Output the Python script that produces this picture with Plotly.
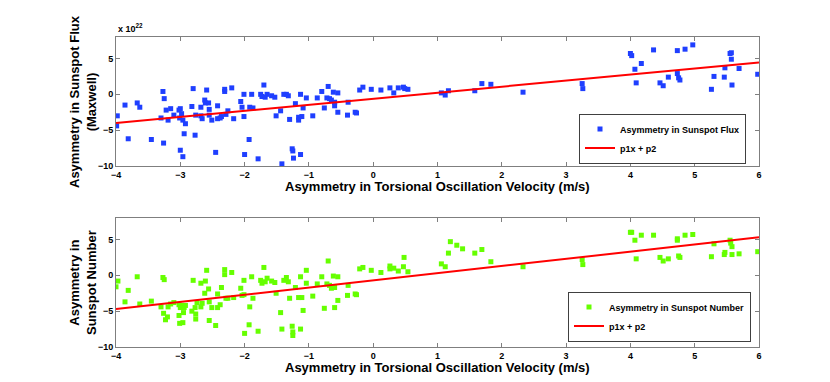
import plotly.graph_objects as go

# Upper panel: sunspot flux asymmetry (units of 1e22 Mx) vs torsional oscillation velocity asymmetry
flux_x = [
    -3.98, -3.99, -3.86, -3.81, -3.67, -3.63, -3.45, -3.30, -3.27, -3.25, -3.26, -3.22, -3.19,
    -3.15, -3.10, -3.02, -3.00, -2.98, -3.01, -2.96, -2.92, -2.94, -3.00, -2.96, -2.80, -2.82,
    -2.76, -2.77, -2.68, -2.68, -2.66, -2.62, -2.61, -2.59, -2.56, -2.55, -2.55, -2.51, -2.45,
    -2.42, -2.42, -2.38, -2.36, -2.31, -2.31, -2.29, -2.26, -2.20, -2.17, -2.06, -2.04, -2.01,
    -2.01, -2.00, -1.93, -1.92, -1.89, -1.87, -1.79, -1.75, -1.73, -1.70, -1.68, -1.65, -1.58,
    -1.53, -1.51, -1.44, -1.42, -1.39, -1.35, -1.32, -1.30, -1.26, -1.25, -1.24, -1.21, -1.16,
    -1.16, -1.13, -1.13, -1.11, -1.09, -1.04, -0.94, -0.87, -0.80, -0.76, -0.70, -0.72, -0.68,
    -0.65, -0.62, -0.60, -0.60, -0.55, -0.55, -0.39, -0.40, -0.28, -0.26, -0.21, -0.16, -0.03,
    0.12, 0.26, 0.32, 0.39, 0.47, 0.49, 0.54, 1.06, 1.12, 1.17, 1.58, 1.69, 1.83, 2.33, 3.25,
    3.26, 4.00, 4.02, 4.07, 4.09, 4.17, 4.36, 4.46, 4.51, 4.59, 4.73, 4.73, 4.75, 4.77, 4.85,
    4.97, 5.26, 5.30, 5.46, 5.47, 5.55, 5.57, 5.57, 5.58, 5.69, 5.98,
]
flux_y = [
    -3.0, -4.4, -1.5, -6.2, -1.2, -1.8, -6.3, -3.3, 0.4, -0.6, -6.8, -2.2, -3.6,
    -2.0, -2.9, -2.2, -2.0, -2.7, -3.3, -3.6, -4.1, -5.5, -7.8, -8.7, 0.8, -1.7,
    -2.9, -5.7, -1.8, -3.0, -3.4, -0.8, -1.2, 0.6, -1.2, -2.1, -2.9, -3.6, -8.1,
    -1.6, -3.4, -3.3, -3.1, 0.7, 0.4, -2.8, -2.3, 0.9, -3.4, -1.0, -1.8, 0.0,
    -3.1, -8.4, -6.3, -1.8, 0.0, -1.9, -9.0, 0.0, -0.3, 1.3, -0.4, 0.0, -0.2,
    -0.4, -3.0, -2.3, -9.7, 0.0, 0.0, -0.2, -3.5, -7.6, -7.9, -8.9, -1.3, -3.2,
    -3.6, 0.0, -8.4, -3.1, -1.9, -0.5, -3.0, -0.5, 0.4, -1.9, 1.1, -0.5, -0.6,
    -0.8, 0.3, -1.1, -1.6, 0.2, -2.5, -1.1, -2.9, -2.5, -2.6, 0.6, 1.0, 0.7,
    0.6, 0.9, 0.2, 0.9, 1.0, 0.8, 0.7, 0.2, -0.1, 0.5, 0.5, 1.5, 1.4, 0.3, 1.5,
    0.8, 5.7, 5.4, 3.5, 1.6, 4.3, 6.2, 1.6, 1.2, 2.4, 6.1, 2.9, 2.3, 2.0, 6.3,
    6.9, 0.7, 2.5, 2.4, 3.7, 5.7, 5.8, 4.9, 1.3, 3.6, 2.8,
]

# Lower panel: sunspot number asymmetry
number_x = [
    -4.00, -3.97, -3.81, -3.86, -3.67, -3.63, -3.45, -3.30, -3.27, -3.25, -3.26, -3.23, -3.20,
    -3.19, -3.15, -3.10, -3.02, -3.02, -3.01, -3.00, -2.98, -2.96, -2.95, -2.94, -2.92, -2.80,
    -2.82, -2.77, -2.76, -2.76, -2.74, -2.68, -2.68, -2.66, -2.62, -2.61, -2.59, -2.56, -2.55,
    -2.55, -2.51, -2.45, -2.42, -2.42, -2.38, -2.36, -2.31, -2.31, -2.29, -2.26, -2.20, -2.17,
    -2.06, -2.04, -2.01, -2.01, -2.00, -1.93, -1.92, -1.89, -1.87, -1.79, -1.75, -1.73, -1.70,
    -1.68, -1.65, -1.58, -1.53, -1.51, -1.44, -1.42, -1.39, -1.35, -1.32, -1.30, -1.26, -1.25,
    -1.25, -1.21, -1.16, -1.13, -1.13, -1.11, -1.09, -1.04, -1.04, -0.94, -0.87, -0.80, -0.76,
    -0.70, -0.72, -0.68, -0.65, -0.62, -0.60, -0.60, -0.55, -0.55, -0.39, -0.40, -0.28, -0.26,
    -0.21, -0.16, -0.03, 0.12, 0.26, 0.26, 0.32, 0.39, 0.47, 0.48, 0.54, 1.06, 1.12, 1.17,
    1.20, 1.30, 1.39, 1.58, 1.69, 1.83, 2.33, 3.25, 3.26, 4.00, 4.02, 4.07, 4.09, 4.17, 4.36,
    4.46, 4.51, 4.59, 4.73, 4.73, 4.75, 4.77, 4.85, 4.97, 5.26, 5.30, 5.46, 5.47, 5.55, 5.56,
    5.58, 5.58, 5.69, 5.98,
]
number_y = [
    -1.6, -0.8, -2.1, -3.7, -0.2, -4.0, -3.6, -4.4, -0.3, -0.6, -5.3, -6.2, -5.8,
    -4.4, -4.0, -3.8, -4.1, -5.6, -6.7, -4.5, -4.2, -6.6, -5.2, -4.5, -4.2, -0.7,
    -5.0, -4.5, -5.4, -6.1, -3.8, -1.1, -4.4, -3.9, -2.5, -0.8, 0.7, -1.9, -3.7,
    -6.3, -4.5, -7.0, -4.5, -2.6, -4.1, -1.7, 0.8, 0.1, -3.2, -3.2, 0.4, -3.1,
    -1.8, -2.8, -2.7, -0.7, -8.1, -6.9, -4.4, -0.2, -3.2, -7.8, -0.7, -1.1, 1.1,
    -0.9, -0.4, -0.8, -1.0, -2.5, -5.2, -7.5, -0.7, -0.3, -0.9, -3.2, -7.1, -7.9,
    -8.4, -1.7, -3.1, -7.5, -0.2, -3.1, -4.9, 0.7, -1.1, -2.9, -1.2, -0.2, -4.6,
    2.0, -1.2, -1.4, -1.8, -0.1, -1.7, -4.5, -0.2, -3.5, -1.4, -2.8, -2.6, -2.7,
    0.9, 1.1, 0.7, 0.4, 1.3, 0.9, 1.0, 0.6, 1.2, 2.5, 0.5, 1.6, 1.2, 3.1,
    4.7, 4.2, 3.7, 3.1, 3.6, 1.9, 1.2, 2.2, 1.5, 6.0, 6.0, 4.9, 2.3, 5.6, 5.6,
    2.5, 2.0, 2.3, 5.1, 4.9, 2.7, 2.5, 5.6, 5.7, 2.6, 4.4, 2.9, 3.2, 4.9, 4.5,
    4.0, 2.9, 3.0, 3.3,
]

# Linear fits (p1x + p2), end points
fit_x = [-4, 6]
flux_fit = [-4.0, 4.45]
number_fit = [-4.7, 5.3]

x_ticks = [-4, -3, -2, -1, 0, 1, 2, 3, 4, 5, 6]
y_ticks = [-10, -5, 0, 5]

BLUE = "#1f3fff"
GREEN = "#66ff00"
RED = "#ff0000"
FONT = "Liberation Sans, Arial, sans-serif"
XTITLE = "Asymmetry in Torsional Oscillation Velocity (m/s)"

fig = go.Figure()
fig.add_trace(go.Scatter(
    x=flux_x, y=flux_y, mode="markers", name="Asymmetry in Sunspot Flux",
    marker=dict(symbol="square", size=5, color=BLUE), xaxis="x", yaxis="y", legend="legend",
))
fig.add_trace(go.Scatter(
    x=fit_x, y=flux_fit, mode="lines", name="p1x + p2",
    line=dict(color=RED, width=2), xaxis="x", yaxis="y", legend="legend",
))
fig.add_trace(go.Scatter(
    x=number_x, y=number_y, mode="markers", name="Asymmetry in Sunspot Number",
    marker=dict(symbol="square", size=5, color=GREEN), xaxis="x2", yaxis="y2", legend="legend2",
))
fig.add_trace(go.Scatter(
    x=fit_x, y=number_fit, mode="lines", name="p1x + p2",
    line=dict(color=RED, width=2), xaxis="x2", yaxis="y2", legend="legend2",
))

W, H = 830, 382
x_dom = [108 / W, 751 / W]
top_dom = [(H - 158) / H, (H - 29) / H]
bot_dom = [(H - 339) / H, (H - 210) / H]

title_font = dict(family=FONT, size=13, color="black", weight="bold")
axis_common = dict(
    showgrid=False, zeroline=False, showline=True, linecolor="#7f7f7f", linewidth=1,
    mirror="allticks", ticks="inside", ticklen=4, tickcolor="#7f7f7f",
    tickfont=dict(family=FONT, size=9, color="black", weight="bold"),
    automargin=False,
)
x_common = dict(axis_common, range=[-4, 6], tickvals=x_ticks)
y_common = dict(axis_common, range=[-10, 8], tickvals=y_ticks)

legend_common = dict(
    font=dict(family=FONT, size=9, color="black", weight="bold"),
    bgcolor="white", bordercolor="#404040", borderwidth=1,
    xanchor="right", yanchor="middle", tracegroupgap=0, itemwidth=30,
)

x_title = dict(
    text=XTITLE, xref="paper", yref="paper", x=(108 + 751) / 2 / W,
    xanchor="center", yanchor="middle", showarrow=False, font=title_font,
)
y_title = dict(
    xref="paper", yref="paper", x=75 / W, textangle=-90,
    xanchor="center", yanchor="middle", showarrow=False, font=title_font,
)

fig.update_layout(
    width=W, height=H,
    margin=dict(l=0, r=0, t=0, b=0),
    paper_bgcolor="white", plot_bgcolor="white",
    showlegend=True,
    xaxis=dict(x_common, domain=x_dom, anchor="y"),
    yaxis=dict(y_common, domain=top_dom, anchor="x"),
    xaxis2=dict(x_common, domain=x_dom, anchor="y2"),
    yaxis2=dict(y_common, domain=bot_dom, anchor="x2"),
    legend=dict(legend_common, x=738 / W, y=(H - 130.5) / H),
    legend2=dict(legend_common, x=743 / W, y=(H - 308.5) / H),
    annotations=[
        dict(x_title, y=(H - 178.5) / H),
        dict(x_title, y=(H - 359) / H),
        dict(y_title, text="Asymmetry in Sunspot Flux<br>(Maxwell)", y=(H - 94) / H),
        dict(y_title, text="Asymmetry in<br>Sunspot Number", y=(H - 275) / H),
        dict(
            text="x 10<sup>22</sup>", xref="paper", yref="paper", x=108 / W, y=(H - 28) / H,
            xanchor="left", yanchor="bottom", showarrow=False,
            font=dict(family=FONT, size=9, color="black", weight="bold"),
        ),
    ],
)

fig.write_html("out.html")
